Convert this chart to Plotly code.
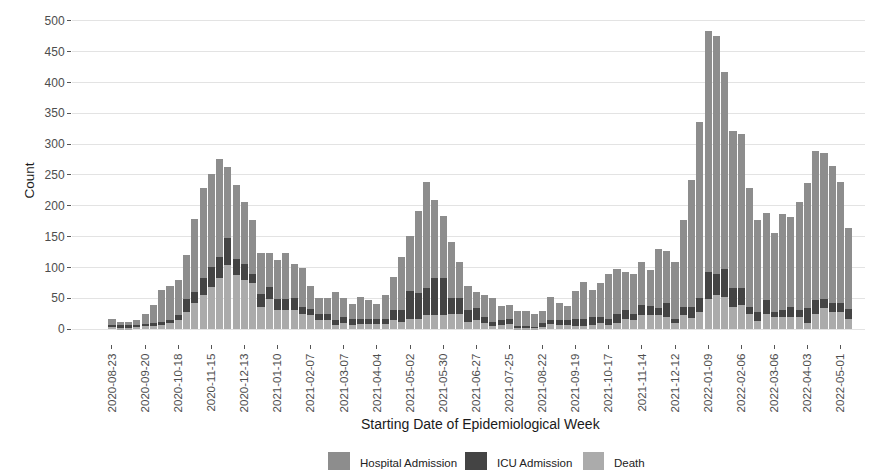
import pandas as pd
import plotly.graph_objects as go

# Weekly categories (starting date of epidemiological week)
weeks = pd.date_range("2020-08-23", periods=90, freq="7D")

# Stacked totals
total = [16, 12, 12, 15, 25, 39, 64, 69, 80, 120,
         179, 228, 251, 276, 263, 233, 206, 176, 124, 124,
         112, 124, 106, 99, 69, 50, 51, 60, 50, 40,
         52, 47, 41, 55, 84, 116, 151, 192, 239, 210,
         183, 141, 108, 69, 60, 55, 50, 38, 39, 30,
         29, 25, 30, 52, 42, 38, 61, 77, 64, 74,
         90, 98, 92, 90, 108, 96, 129, 126, 109, 177,
         242, 335, 483, 475, 417, 321, 316, 229, 177, 188,
         155, 186, 181, 206, 236, 288, 285, 264, 239, 164]
# Top of ICU segment (death + ICU)
icu_top = [7, 6, 6, 7, 8, 9, 12, 14, 22, 48,
           60, 82, 101, 117, 147, 113, 106, 90, 56, 68,
           48, 49, 50, 35, 33, 24, 24, 15, 20, 16,
           17, 16, 16, 16, 31, 31, 61, 58, 66, 82,
           82, 50, 50, 31, 34, 19, 12, 15, 17, 5,
           5, 4, 9, 14, 15, 15, 16, 17, 20, 20,
           17, 25, 31, 25, 39, 38, 34, 42, 17, 35,
           35, 50, 92, 90, 98, 66, 66, 35, 27, 47,
           27, 31, 35, 31, 34, 47, 48, 42, 42, 32]
death = [4, 3, 3, 4, 5, 5, 7, 9, 14, 28,
         42, 55, 68, 82, 104, 88, 80, 74, 35, 48,
         31, 31, 31, 24, 23, 15, 14, 7, 10, 6,
         8, 8, 8, 8, 15, 12, 17, 17, 23, 23,
         23, 25, 25, 12, 15, 9, 5, 6, 8, 3,
         3, 2, 4, 8, 6, 6, 5, 5, 6, 10,
         7, 9, 17, 14, 23, 23, 23, 20, 9, 23,
         18, 27, 49, 55, 52, 35, 39, 25, 13, 25,
         20, 20, 20, 19, 10, 25, 34, 28, 27, 17]

icu = [c - d for c, d in zip(icu_top, death)]
hospital = [t - c for t, c in zip(total, icu_top)]

series_names = ["Hospital Admission", "ICU Admission", "Death"]

tick_labels = ["2020-08-23", "2020-09-20", "2020-10-18", "2020-11-15", "2020-12-13",
               "2021-01-10", "2021-02-07", "2021-03-07", "2021-04-04", "2021-05-02",
               "2021-05-30", "2021-06-27", "2021-07-25", "2021-08-22", "2021-09-19",
               "2021-10-17", "2021-11-14", "2021-12-12", "2022-01-09", "2022-02-06",
               "2022-03-06", "2022-04-03", "2022-05-01"]
y_ticks = [0, 50, 100, 150, 200, 250, 300, 350, 400, 450, 500]

FONT = "Liberation Sans, Arial, sans-serif"
colors = {"Hospital Admission": "#8d8d8d", "ICU Admission": "#444444", "Death": "#ababab"}

W, H = 865, 465
ML, MR, MT, MB = 64, 0, 9, 129
PW, PH = W - ML - MR, H - MT - MB


def px(x):
    return (x - ML) / PW


def py(y):
    return (H - MB - y) / PH


fig = go.Figure()
for name, vals in [("Death", death), ("ICU Admission", icu), ("Hospital Admission", hospital)]:
    fig.add_trace(go.Bar(
        x=weeks, y=vals, name=name,
        marker=dict(color=colors[name], line=dict(width=0)),
        showlegend=False,
    ))

# manual legend (keys + labels)
legend_keys = [(320, 342, 350), (457, 479, 487), (575, 596, 604)]
shapes = []
annotations = []
for name, (k0, k1, t0) in zip(series_names, legend_keys):
    shapes.append(dict(type="rect", xref="paper", yref="paper",
                       x0=px(k0), x1=px(k1), y0=py(462), y1=py(444),
                       fillcolor=colors[name], line=dict(width=0)))
    annotations.append(dict(text=name, xref="paper", yref="paper", x=px(t0), y=py(455),
                            xanchor="left", yanchor="middle", showarrow=False,
                            font=dict(size=11.5, color="#222222", family=FONT)))
annotations.append(dict(text="Starting Date of Epidemiological Week", xref="paper", yref="paper",
                        x=px(481 - 8), y=py(416), xanchor="center", yanchor="middle",
                        showarrow=False, font=dict(size=14, color="#1a1a1a", family=FONT)))

x0 = weeks[0] - pd.Timedelta(days=33.8)
x1 = weeks[0] + pd.Timedelta(days=643.4)

fig.update_layout(
    width=W, height=H,
    margin=dict(l=ML, r=MR, t=MT, b=MB),
    barmode="stack", bargap=0.14,
    paper_bgcolor="white", plot_bgcolor="white",
    font=dict(family=FONT, color="#4d4d4d", size=11),
    showlegend=False,
    shapes=shapes,
    annotations=annotations,
)
fig.update_xaxes(
    type="date", range=[x0, x1],
    tickvals=tick_labels, ticktext=tick_labels, tickangle=-90,
    ticks="outside", ticklen=4, tickcolor="#555555", tickwidth=1,
    tickfont=dict(size=11.5, color="#4d4d4d", family=FONT),
    showgrid=False, zeroline=False, showline=False,
)
fig.update_yaxes(
    range=[-24.3, 506], tickvals=y_ticks,
    ticks="outside", ticklen=4, tickcolor="#555555", tickwidth=1,
    tickfont=dict(size=12, color="#4d4d4d", family=FONT),
    showgrid=True, gridcolor="#e3e3e3", gridwidth=1.1,
    zeroline=False, showline=False,
    title=dict(text="Count", font=dict(size=13.5, color="#1a1a1a", family=FONT), standoff=6),
)

fig.write_html("out.html")
